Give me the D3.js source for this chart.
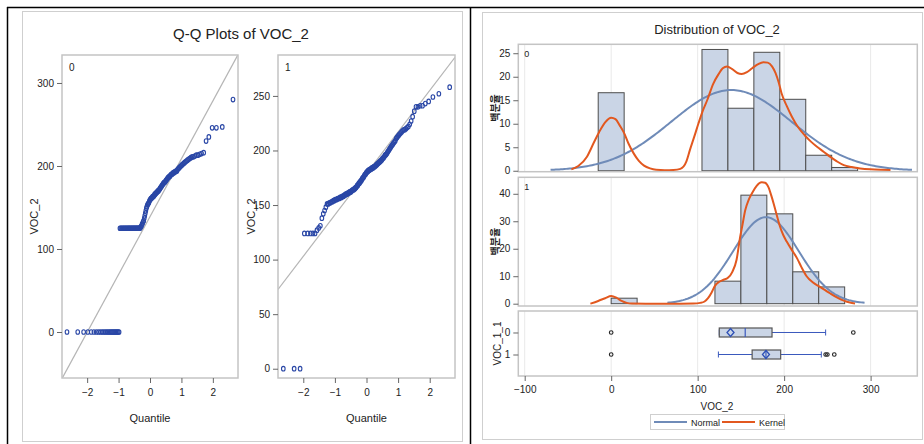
<!DOCTYPE html>
<html lang="ko">
<head>
<meta charset="UTF-8">
<title>Q-Q Plots and Distribution of VOC_2</title>
<script src="https://d3js.org/d3.v7.min.js"></script>
<style>
  body { margin: 0; background: #fff; }
  text { font-family: "Liberation Sans Narrow", "Arial Narrow", "Liberation Sans", Arial, sans-serif; fill: #222; }
  .tick line { stroke: #666; }
  .tick text { font-size: 10px; }
</style>
</head>
<body>
<svg id="chart" width="924" height="444"></svg>
<script>
// ---- data ----
const groups = ["0", "1"];

// sorted VOC_2 values per group (for the Q-Q plots)
const voc0 = [
  0,0,0,0,0,0,0,0,0,0,0,0,0,0,0,0,0,0,0,0,0,0,0,0,0,
  125,125,125,125,125,125,125,125,125,125,125,125,125,125,125,125,
  125,125,125,125,125,125,125,125,125,125,125,125,125,125,125,125,
  126,127,128,130,131,133,134,
  137,140,143,146,149,151,153,154,155,156,158,159,160,161,161,162,163,163,164,164,
  166,166,167,168,168,169,170,170,171,172,173,174,175,176,177,178,179,180,180,181,
  182,183,184,185,186,187,187,188,189,190,190,191,192,192,193,193,194,194,
  196,197,198,199,200,201,202,203,204,205,206,207,208,209,210,
  211,211,212,213,213,214,215,216,
  230,235,246,246,247,280
];
const voc1 = [
  0,0,0,
  124,124,124,124,124,127,129,131,138,142,145,148,
  151,151,152,152,153,153,154,154,155,155,155,156,156,156,157,157,157,158,158,158,
  159,159,160,160,160,161,161,161,162,162,162,163,163,164,164,164,165,165,166,166,
  167,168,168,169,170,170,171,172,172,173,174,175,175,176,177,178,178,179,
  180,180,181,181,182,182,182,183,183,183,184,184,184,185,185,185,186,186,187,187,
  188,188,189,189,190,190,191,191,192,193,193,194,195,196,196,197,198,199,200,201,
  202,203,204,205,206,207,208,209,
  211,212,213,214,215,216,217,218,219,219,220,221,222,224,227,231,236,
  240,240,241,241,243,245,249,252,258
];

// fitted normal parameters
const fitMean = [139, 179];
const fitSd = [69.7, 38];

// histogram bins (midpoints, width 30) and percents
const binWidth = 30;
const binMid0 = [0, 120, 150, 180, 210, 240, 270];
const pct0 = [16.6, 25.8, 13.3, 25.2, 15.2, 3.3, 0.7];
const binMid1 = [15, 135, 165, 195, 225, 255];
const pct1 = [2.0, 8.2, 39.5, 32.7, 11.6, 6.1];

// kernel density curves [VOC_2, percent]
const kernel0 = [[-46,0.3],[-38,1.0],[-28,3.0],[-20,6.0],[-14,8.2],[-7,10.3],[0,11.3],[5,11.0],[10,9.6],
  [15,8.0],[20,5.8],[26,3.7],[32,2.1],[38,1.1],[45,0.5],[52,0.2],[62,0.1],[72,0.15],[80,0.4],[87,2.0],
  [91,4.4],[96,7.2],[101,10.1],[106,12.8],[111,15.0],[118,18.5],[124,20.5],[129,21.8],[134,22.2],[140,21.6],
  [146,20.8],[151,20.6],[157,21.0],[163,21.8],[170,22.7],[176,23.1],[181,23.0],[186,22.2],[190,20.8],
  [194,18.6],[197,16.5],[203,13.8],[209,11.5],[216,9.3],[224,7.5],[231,6.2],[238,5.1],[246,4.0],[253,3.0],
  [261,2.0],[269,1.2],[278,0.8],[288,0.5],[300,0.3],[312,0.2],[323,0.15]];
const kernel1 = [[-24,0.0],[-15,1.0],[-7,2.0],[0,2.8],[6,2.2],[12,1.0],[18,0.3],[24,0.05],[40,0],[60,0],
  [80,0],[95,0.05],[103,0.3],[108,0.8],[112,2.0],[116,4.0],[120,6.5],[125,8.0],[130,8.7],[135,9.4],
  [140,11.5],[145,16],[149,24],[152,29],[155,34],[159,37.8],[163,40.3],[168,42.8],[174,44.2],[178,44.0],
  [182,42.3],[185,39.5],[188,36.3],[191,32.8],[195,28.3],[199,25.0],[203,22.6],[209,19.5],[215,16.5],
  [220,13.3],[226,10.0],[233,7.8],[241,6.2],[247,5.0],[253,3.8],[261,2.3],[269,1.1],[276,0.4],[282,0.1]];

// box plot statistics per group
const boxQ1 = [125, 163];
const boxMedian = [155, 179];
const boxQ3 = [186, 196];
const boxMean = [138, 179];
const whiskerLow = [125, 124];
const whiskerHigh = [248, 243];
const outliers = [[0, 280], [0, 248, 250, 258]];

// ticks
const qqXTicks = [-2, -1, 0, 1, 2];
const qqYTicks0 = [0, 100, 200, 300];
const qqYTicks1 = [0, 50, 100, 150, 200, 250];
const histXTicks = [-100, 0, 100, 200, 300];
const histYTicks0 = [0, 5, 10, 15, 20, 25];
const histYTicks1 = [0, 10, 20, 30, 40];

// ---- helpers ----
function probit(p) {
  const a = [-39.69683028665376, 220.9460984245205, -275.9285104469687, 138.3577518672690, -30.66479806614716, 2.506628277459239];
  const b = [-54.47609879822406, 161.5858368580409, -155.6989798598866, 66.80131188771972, -13.28068155288572];
  const c = [-0.007784894002430293, -0.3223964580411365, -2.400758277161838, -2.549732539343734, 4.374664141464968, 2.938163982698783];
  const d = [0.007784695709041462, 0.3224671290700398, 2.445134137142996, 3.754408661907416];
  const pl = 0.02425;
  if (p < pl || p > 1 - pl) {
    const q = Math.sqrt(-2 * Math.log(p < pl ? p : 1 - p));
    const v = (((((c[0]*q+c[1])*q+c[2])*q+c[3])*q+c[4])*q+c[5]) / ((((d[0]*q+d[1])*q+d[2])*q+d[3])*q+1);
    return p < pl ? v : -v;
  }
  const q = p - 0.5, r = q * q;
  return (((((a[0]*r+a[1])*r+a[2])*r+a[3])*r+a[4])*r+a[5])*q / (((((b[0]*r+b[1])*r+b[2])*r+b[3])*r+b[4])*r+1);
}
const normPdf = (x, m, s) => Math.exp(-0.5 * ((x - m) / s) ** 2) / (s * Math.sqrt(2 * Math.PI));

const svg = d3.select("#chart");

// outer frames
svg.append("line").attr("x1", 7).attr("x2", 924).attr("y1", 7.5).attr("y2", 7.5).attr("stroke", "#000").attr("stroke-width", 1.5);
svg.append("line").attr("x1", 7.5).attr("x2", 7.5).attr("y1", 7).attr("y2", 444).attr("stroke", "#000").attr("stroke-width", 1.5);
svg.append("line").attr("x1", 470.5).attr("x2", 470.5).attr("y1", 7).attr("y2", 444).attr("stroke", "#000").attr("stroke-width", 1.5);
svg.append("rect").attr("x", 22.5).attr("y", 11.5).attr("width", 440).attr("height", 430)
  .attr("fill", "none").attr("stroke", "#cfcfcf");
svg.append("rect").attr("x", 482.5).attr("y", 12.5).attr("width", 440).attr("height", 427)
  .attr("fill", "none").attr("stroke", "#cfcfcf");

function frame(x0, y0, x1, y1) {
  svg.append("rect").attr("x", x0).attr("y", y0).attr("width", x1 - x0).attr("height", y1 - y0)
    .attr("fill", "none").attr("stroke", "#c4c4c4").attr("stroke-width", 1.5);
}
function styleAxis(g) {
  g.select(".domain").remove();
  g.selectAll(".tick line").attr("stroke", "#777");
}

// ---- Q-Q plots ----
svg.append("text").attr("x", 241).attr("y", 39).attr("text-anchor", "middle")
  .style("font-size", "15px").text("Q-Q Plots of VOC_2");

const qqLayout = [
  {x0: 62, x1: 238, yDomain: [-55.4, 333.7], yTicks: qqYTicks0, labelX: 34},
  {x0: 278, x1: 455, yDomain: [-8.5, 287.5], yTicks: qqYTicks1, labelX: 251}
];
const qqTop = 55, qqBottom = 378;
const qqValues = [voc0, voc1];

groups.forEach((grp, gi) => {
  const L = qqLayout[gi];
  const vals = qqValues[gi];
  const n = vals.length;
  const x = d3.scaleLinear().domain([-2.8, 2.8]).range([L.x0, L.x1]);
  const y = d3.scaleLinear().domain(L.yDomain).range([qqBottom, qqTop]);

  const clipId = "qqclip" + gi;
  svg.append("clipPath").attr("id", clipId).append("rect")
    .attr("x", L.x0).attr("y", qqTop).attr("width", L.x1 - L.x0).attr("height", qqBottom - qqTop);

  const xd = x.domain();
  svg.append("line").attr("clip-path", `url(#${clipId})`)
    .attr("x1", x(xd[0])).attr("y1", y(fitMean[gi] + fitSd[gi] * xd[0]))
    .attr("x2", x(xd[1])).attr("y2", y(fitMean[gi] + fitSd[gi] * xd[1]))
    .attr("stroke", "#b5b5b5").attr("stroke-width", 1.2);

  svg.append("g").selectAll("ellipse").data(vals).join("ellipse")
    .attr("cx", (d, i) => x(probit((i + 1 - 0.375) / (n + 0.25))))
    .attr("cy", d => y(d))
    .attr("rx", 1.8).attr("ry", 2.3)
    .attr("fill", "none").attr("stroke", "#2a47a6").attr("stroke-width", 1.1);

  frame(L.x0, qqTop, L.x1, qqBottom);

  svg.append("g").attr("transform", `translate(${L.x0},0)`)
    .call(d3.axisLeft(y).tickValues(L.yTicks).tickSize(5).tickPadding(3).tickFormat(d3.format("d")))
    .call(styleAxis);
  svg.append("g").attr("transform", `translate(0,${qqBottom})`)
    .call(d3.axisBottom(x).tickValues(qqXTicks).tickSize(5).tickPadding(6).tickFormat(d3.format("d")))
    .call(styleAxis);

  svg.append("text").attr("x", L.x0 + 7).attr("y", qqTop + 16).style("font-size", "10px").text(grp);
  svg.append("text").attr("transform", `translate(${L.labelX},${(qqTop + qqBottom) / 2}) rotate(-90)`)
    .attr("text-anchor", "middle").attr("dy", "0.35em").style("font-size", "11px").text("VOC_2");
  svg.append("text").attr("x", (L.x0 + L.x1) / 2).attr("y", 422).attr("text-anchor", "middle")
    .style("font-size", "11px").text("Quantile");
});

// ---- Distribution panels ----
svg.append("text").attr("x", 717).attr("y", 34).attr("text-anchor", "middle")
  .style("font-size", "13px").text("Distribution of VOC_2");

const px0 = 518.3, px1 = 917.3;
const x = d3.scaleLinear().domain([-107.4, 354]).range([px0, px1]);

const histLayout = [
  {top: 44.3, bottom: 171.7, yDomain: [-0.2, 26.9], yTicks: histYTicks0},
  {top: 177.3, bottom: 306, yDomain: [-0.84, 46], yTicks: histYTicks1}
];
const binMids = [binMid0, binMid1];
const pcts = [pct0, pct1];
const kernels = [kernel0, kernel1];

groups.forEach((grp, gi) => {
  const L = histLayout[gi];
  const y = d3.scaleLinear().domain(L.yDomain).range([L.bottom, L.top]);
  const clipId = "hclip" + gi;
  svg.append("clipPath").attr("id", clipId).append("rect")
    .attr("x", px0).attr("y", L.top).attr("width", px1 - px0).attr("height", L.bottom - L.top);

  svg.append("g").selectAll("line").data(histXTicks).join("line")
    .attr("x1", d => x(d)).attr("x2", d => x(d)).attr("y1", L.top).attr("y2", L.bottom)
    .attr("stroke", "#e9e9e9");

  const bars = binMids[gi].map((m, i) => ({mid: m, pct: pcts[gi][i]}));
  svg.append("g").selectAll("rect").data(bars).join("rect")
    .attr("x", d => x(d.mid - binWidth / 2))
    .attr("width", d => x(d.mid + binWidth / 2) - x(d.mid - binWidth / 2))
    .attr("y", d => y(d.pct)).attr("height", d => y(0) - y(d.pct))
    .attr("fill", "#cad5e6").attr("stroke", "#4d4d4d").attr("stroke-width", 1);

  const m = fitMean[gi], s = fitSd[gi];
  const normPts = d3.range(m - 3 * s, m + 3 * s + 0.01, 2).map(v => [v, normPdf(v, m, s) * binWidth * 100]);
  const line = d3.line().x(d => x(d[0])).y(d => y(d[1]));
  svg.append("path").datum(normPts).attr("clip-path", `url(#${clipId})`)
    .attr("d", line).attr("fill", "none").attr("stroke", "#6f8bb8").attr("stroke-width", 2);
  svg.append("path").datum(kernels[gi]).attr("clip-path", `url(#${clipId})`)
    .attr("d", line.curve(d3.curveMonotoneX)).attr("fill", "none").attr("stroke", "#e2581f").attr("stroke-width", 2);

  frame(px0, L.top, px1, L.bottom);
  svg.append("g").attr("transform", `translate(${px0},0)`)
    .call(d3.axisLeft(y).tickValues(L.yTicks).tickSize(5).tickPadding(3))
    .call(styleAxis);
  svg.append("text").attr("x", px0 + 6).attr("y", L.top + 13).style("font-size", "9px").text(grp);
  svg.append("text").attr("transform", `translate(495,${(L.top + L.bottom) / 2}) rotate(-90)`)
    .attr("text-anchor", "middle").attr("dy", "0.35em")
    .style("font-family", "'Noto Sans CJK KR', sans-serif").style("font-size", "10px")
    .style("font-weight", "bold").text("백분율");
});

// ---- box plots ----
const boxTop = 311, boxBottom = 376;
const yb = d3.scalePoint().domain(groups).range([boxTop, boxBottom]).padding(0.977);
svg.append("g").selectAll("line").data(histXTicks).join("line")
  .attr("x1", d => x(d)).attr("x2", d => x(d)).attr("y1", boxTop).attr("y2", boxBottom)
  .attr("stroke", "#e9e9e9");

const boxes = groups.map((g, i) => ({
  g, q1: boxQ1[i], med: boxMedian[i], q3: boxQ3[i], mean: boxMean[i],
  lo: whiskerLow[i], hi: whiskerHigh[i], out: outliers[i]
}));
const bh = 4.5, whiskerColor = "#3a59bd";
const bg = svg.append("g").selectAll("g").data(boxes).join("g");
bg.append("line").attr("x1", d => x(d.lo)).attr("x2", d => x(d.q1))
  .attr("y1", d => yb(d.g)).attr("y2", d => yb(d.g)).attr("stroke", whiskerColor);
bg.append("line").attr("x1", d => x(d.q3)).attr("x2", d => x(d.hi))
  .attr("y1", d => yb(d.g)).attr("y2", d => yb(d.g)).attr("stroke", whiskerColor);
bg.append("line").attr("x1", d => x(d.lo)).attr("x2", d => x(d.lo))
  .attr("y1", d => yb(d.g) - 3).attr("y2", d => yb(d.g) + 3).attr("stroke", whiskerColor);
bg.append("line").attr("x1", d => x(d.hi)).attr("x2", d => x(d.hi))
  .attr("y1", d => yb(d.g) - 3).attr("y2", d => yb(d.g) + 3).attr("stroke", whiskerColor);
bg.append("rect").attr("x", d => x(d.q1)).attr("width", d => x(d.q3) - x(d.q1))
  .attr("y", d => yb(d.g) - bh).attr("height", 2 * bh)
  .attr("fill", "#cad5e6").attr("stroke", "#555").attr("stroke-width", 1.2);
bg.append("line").attr("x1", d => x(d.med)).attr("x2", d => x(d.med))
  .attr("y1", d => yb(d.g) - bh).attr("y2", d => yb(d.g) + bh).attr("stroke", "#3a59bd").attr("stroke-width", 1.2);
bg.append("path")
  .attr("d", d => { const cx = x(d.mean), cy = yb(d.g); return `M${cx},${cy - 4}L${cx + 3.5},${cy}L${cx},${cy + 4}L${cx - 3.5},${cy}Z`; })
  .attr("fill", "none").attr("stroke", "#2d4fb5").attr("stroke-width", 1.3);
bg.selectAll("circle").data(d => d.out.map(v => ({v, g: d.g}))).join("circle")
  .attr("cx", d => x(d.v)).attr("cy", d => yb(d.g)).attr("r", 1.8)
  .attr("fill", "none").attr("stroke", "#222").attr("stroke-width", 1.1);

frame(px0, boxTop, px1, boxBottom);
svg.append("g").attr("transform", `translate(${px0},0)`)
  .call(d3.axisLeft(yb).tickSize(5).tickPadding(3))
  .call(styleAxis);
svg.append("g").attr("transform", `translate(0,${boxBottom})`)
  .call(d3.axisBottom(x).tickValues(histXTicks).tickSize(5).tickPadding(5))
  .call(styleAxis);
svg.append("text").attr("transform", `translate(497,${(boxTop + boxBottom) / 2}) rotate(-90)`)
  .attr("text-anchor", "middle").attr("dy", "0.35em").style("font-size", "10px").text("VOC_1_1");
svg.append("text").attr("x", 717).attr("y", 410).attr("text-anchor", "middle")
  .style("font-size", "10px").text("VOC_2");

// ---- legend ----
const legend = svg.append("g");
legend.append("rect").attr("x", 650.5).attr("y", 414.5).attr("width", 134).attr("height", 15)
  .attr("fill", "#fff").attr("stroke", "#cfcfcf");
const legendItems = [{name: "Normal", color: "#6f8bb8", x1: 654}, {name: "Kernel", color: "#e2581f", x1: 722}];
legendItems.forEach(it => {
  legend.append("line").attr("x1", it.x1).attr("x2", it.x1 + 33).attr("y1", 422).attr("y2", 422)
    .attr("stroke", it.color).attr("stroke-width", 2);
  legend.append("text").attr("x", it.x1 + 37).attr("y", 425.5).style("font-size", "9px").text(it.name);
});
</script>
</body>
</html>
